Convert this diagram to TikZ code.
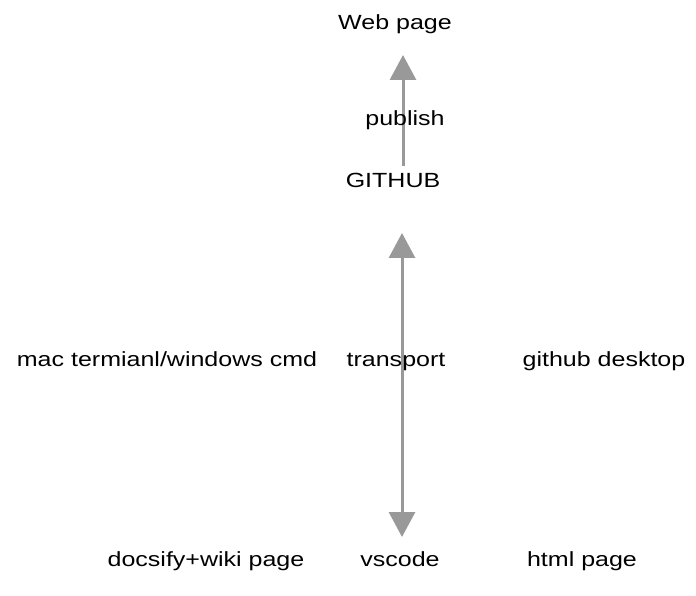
\documentclass[tikz,border=0pt]{standalone}
\usepackage{fontspec}
\setmainfont{Liberation Sans}[FakeStretch=1.22]
\usetikzlibrary{arrows.meta}
\tikzset{
  lbl/.style={inner sep=0pt, font=\fontsize{20.5}{24}\selectfont, text=black, anchor=base},
  arr/.style={draw={rgb,255:red,153;green,153;blue,153}, line width=3pt,
    -{Triangle[length=25pt,width=26pt]}},
  darr/.style={draw={rgb,255:red,153;green,153;blue,153}, line width=3pt,
    {Triangle[length=25pt,width=26pt]}-{Triangle[length=25pt,width=26pt]}}
}
\begin{document}
\begin{tikzpicture}[x=1pt,y=1pt]
\useasboundingbox (0,0) rectangle (696,595);
% connectors first so labels sit on top
\coordinate (ghtop) at (403,429);
\coordinate (webbot) at (403,540);
\coordinate (trtop) at (402,362);
\coordinate (trbot) at (402,58);
\draw[arr] (ghtop) -- (webbot);
\draw[darr] (trbot) -- (trtop);
\node[lbl] (web) at (395,565) {Web page};
\node[lbl] (pub) at (405,469) {publish};
\node[lbl] (github) at (393,407) {GITHUB};
\node[lbl] (mac) at (167,229) {mac termianl/windows cmd};
\node[lbl] (transport) at (396,229) {transport};
\node[lbl] (ghd) at (604,229) {github desktop};
\node[lbl] (docsify) at (206,29) {docsify+wiki page};
\node[lbl] (vscode) at (400,29) {vscode};
\node[lbl] (html) at (582,29) {html page};
\end{tikzpicture}
\end{document}
